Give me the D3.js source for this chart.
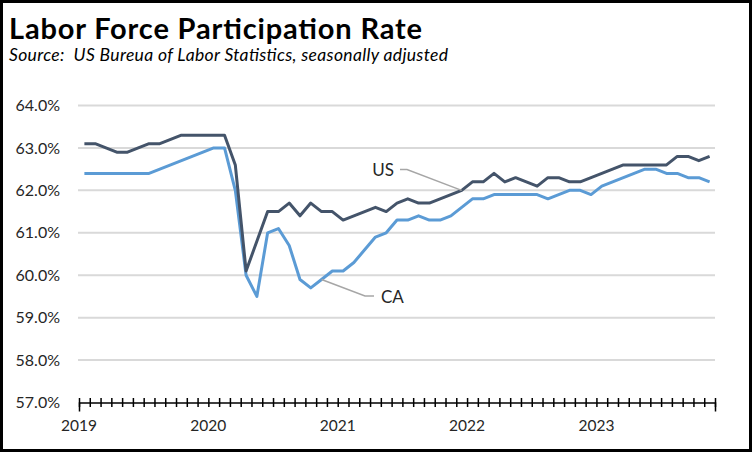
<!DOCTYPE html>
<html>
<head>
<meta charset="utf-8">
<script src="https://cdn.jsdelivr.net/npm/d3@7"></script>
<style>
  html, body { margin: 0; padding: 0; background: #fff; }
  svg { display: block; }
</style>
</head>
<body>
<div id="chart"></div>
<script>
// Monthly labor force participation rate, Jan 2019 - Nov 2023
var years = ["2019", "2020", "2021", "2022", "2023"];
var months = [];
years.forEach(function(y) {
  for (var m = 1; m <= 12; m++) {
    if (y === "2023" && m > 11) break;
    months.push(y + "-" + (m < 10 ? "0" + m : m));
  }
});

var usRate = [
  63.1, 63.1, 63.0, 62.9, 62.9, 63.0, 63.1, 63.1, 63.2, 63.3, 63.3, 63.3,
  63.3, 63.3, 62.6, 60.1, 60.8, 61.5, 61.5, 61.7, 61.4, 61.7, 61.5, 61.5,
  61.3, 61.4, 61.5, 61.6, 61.5, 61.7, 61.8, 61.7, 61.7, 61.8, 61.9, 62.0,
  62.2, 62.2, 62.4, 62.2, 62.3, 62.2, 62.1, 62.3, 62.3, 62.2, 62.2, 62.3,
  62.4, 62.5, 62.6, 62.6, 62.6, 62.6, 62.6, 62.8, 62.8, 62.7, 62.8
];

var caRate = [
  62.4, 62.4, 62.4, 62.4, 62.4, 62.4, 62.4, 62.5, 62.6, 62.7, 62.8, 62.9,
  63.0, 63.0, 62.0, 60.0, 59.5, 61.0, 61.1, 60.7, 59.9, 59.7, 59.9, 60.1,
  60.1, 60.3, 60.6, 60.9, 61.0, 61.3, 61.3, 61.4, 61.3, 61.3, 61.4, 61.6,
  61.8, 61.8, 61.9, 61.9, 61.9, 61.9, 61.9, 61.8, 61.9, 62.0, 62.0, 61.9,
  62.1, 62.2, 62.3, 62.4, 62.5, 62.5, 62.4, 62.4, 62.3, 62.3, 62.2
];

var yTicks = [57, 58, 59, 60, 61, 62, 63, 64];

var svgWidth = 752;
var svgHeight = 452;

var plot = { left: 79, right: 715, top: 105.5, bottom: 402.5 };
var font = "Lato, 'Open Sans', sans-serif";

var svg = d3.select("#chart")
  .append("svg")
  .attr("width", svgWidth)
  .attr("height", svgHeight);

// Outer frame
svg.append("rect")
  .attr("x", 1.5).attr("y", 1.5)
  .attr("width", svgWidth - 3).attr("height", svgHeight - 3)
  .attr("fill", "#fff")
  .attr("stroke", "#000")
  .attr("stroke-width", 3);

// Titles
svg.append("text")
  .attr("x", 9).attr("y", 38.5)
  .attr("font-family", font)
  .attr("font-weight", "bold")
  .attr("font-size", 29)
  .attr("textLength", 413)
  .attr("lengthAdjust", "spacing")
  .attr("fill", "#000")
  .text("Labor Force Participation Rate");

svg.append("text")
  .attr("x", 9).attr("y", 61)
  .attr("font-family", font)
  .attr("font-style", "italic")
  .attr("font-size", 17.5)
  .attr("textLength", 439)
  .attr("lengthAdjust", "spacing")
  .style("white-space", "pre")
  .attr("fill", "#000")
  .text("Source:  US Bureua of Labor Statistics, seasonally adjusted");

// Scales
var x = d3.scaleBand()
  .domain(months)
  .range([plot.left, plot.right])
  .padding(0);

var xEdge = d3.scaleLinear()
  .domain([0, months.length])
  .range([plot.left, plot.right]);

var y = d3.scaleLinear()
  .domain([57, 64])
  .range([plot.bottom, plot.top]);

// Gridlines
svg.append("g")
  .selectAll("line")
  .data(yTicks.filter(d => d > 57))
  .enter()
  .append("line")
  .attr("x1", plot.left - 1)
  .attr("x2", plot.right)
  .attr("y1", d => y(d))
  .attr("y2", d => y(d))
  .attr("stroke", "#d9d9d9")
  .attr("stroke-width", 2);

// Y axis labels
var leftAxis = d3.axisLeft(y)
  .tickValues(yTicks)
  .tickSize(0)
  .tickPadding(0)
  .tickFormat(d => d.toFixed(1) + "%");

var yAxisG = svg.append("g")
  .attr("transform", "translate(60, 0)")
  .call(leftAxis);
yAxisG.select(".domain").remove();
yAxisG.selectAll("text")
  .attr("font-family", font)
  .attr("font-size", 16)
  .attr("fill", "#262626");

// X axis: month ticks crossing the line
var bottomAxis = d3.axisBottom(xEdge)
  .tickValues(d3.range(months.length + 1))
  .tickSize(9)
  .tickFormat("");

var xAxisG = svg.append("g")
  .attr("transform", `translate(0, ${plot.bottom})`)
  .call(bottomAxis);
xAxisG.select(".domain")
  .attr("stroke", "#000")
  .attr("stroke-width", 1.5);
xAxisG.selectAll(".tick line")
  .attr("y1", -4.5)
  .attr("y2", 4.5)
  .attr("stroke", "#000")
  .attr("stroke-width", 1.5);

// Year labels at the start of each year
svg.append("g")
  .selectAll("text")
  .data(years)
  .enter()
  .append("text")
  .attr("x", (d, i) => xEdge(i * 12))
  .attr("y", 431)
  .attr("text-anchor", "middle")
  .attr("font-family", font)
  .attr("font-size", 15.5)
  .attr("fill", "#262626")
  .text(d => d);

// Lines
var line = d3.line()
  .x((d, i) => x(months[i]) + x.bandwidth() / 2)
  .y(d => y(d));

svg.append("path")
  .datum(caRate)
  .attr("d", line)
  .attr("fill", "none")
  .attr("stroke", "#5b9bd5")
  .attr("stroke-width", 3)
  .attr("stroke-linejoin", "round");

svg.append("path")
  .datum(usRate)
  .attr("d", line)
  .attr("fill", "none")
  .attr("stroke", "#44546a")
  .attr("stroke-width", 3)
  .attr("stroke-linejoin", "round");

// Leader lines and series labels
var usIdx = 35;
var caIdx = 22;
var ptX = i => x(months[i]) + x.bandwidth() / 2;

svg.append("polyline")
  .attr("points", [
    [400, 169.5], [407, 169.5], [ptX(usIdx), y(usRate[usIdx])]
  ].map(p => p.join(",")).join(" "))
  .attr("fill", "none")
  .attr("stroke", "#a6a6a6")
  .attr("stroke-width", 1.5);

svg.append("polyline")
  .attr("points", [
    [ptX(caIdx), y(caRate[caIdx])], [365, 296], [374, 296]
  ].map(p => p.join(",")).join(" "))
  .attr("fill", "none")
  .attr("stroke", "#a6a6a6")
  .attr("stroke-width", 1.5);

svg.append("text")
  .attr("x", 394).attr("y", 176)
  .attr("text-anchor", "end")
  .attr("font-family", font)
  .attr("font-size", 17)
  .attr("fill", "#262626")
  .text("US");

svg.append("text")
  .attr("x", 381).attr("y", 303)
  .attr("font-family", font)
  .attr("font-size", 17)
  .attr("fill", "#262626")
  .text("CA");
</script>
</body>
</html>
